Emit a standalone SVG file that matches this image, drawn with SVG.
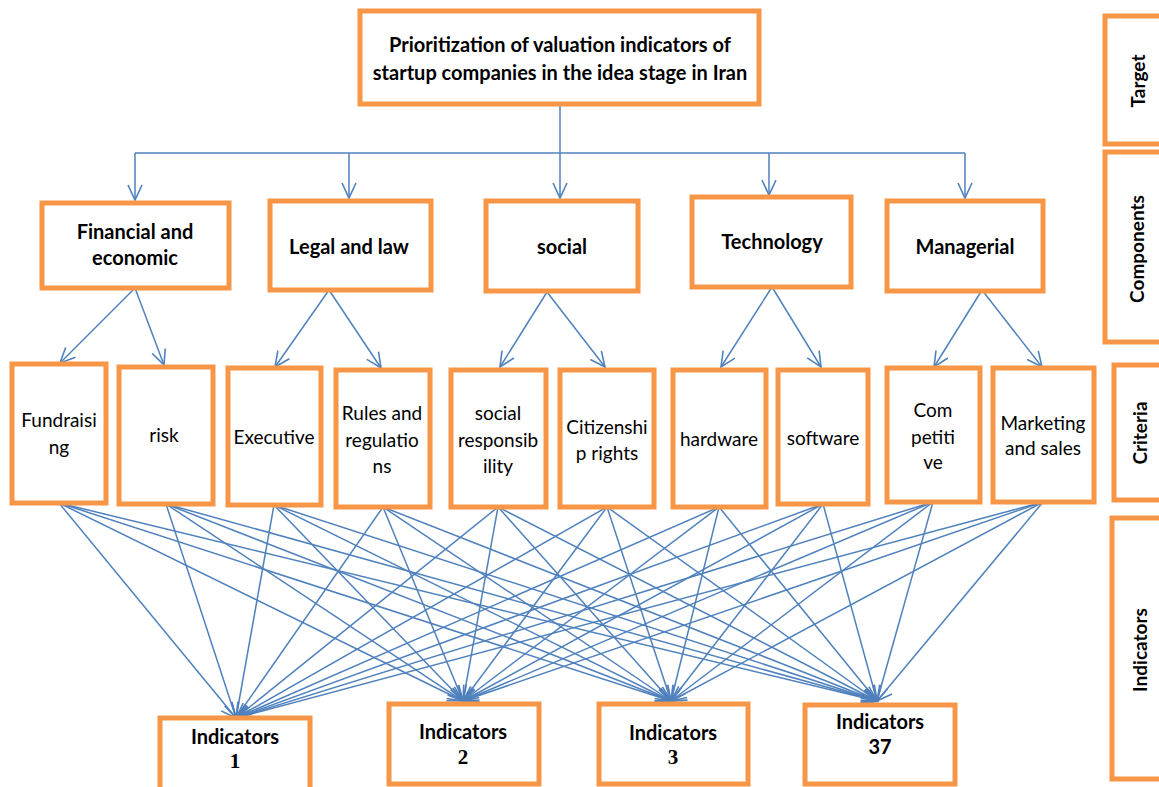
<svg xmlns="http://www.w3.org/2000/svg" width="1159" height="787" viewBox="0 0 1159 787">
<style>
.box{fill:#fff;stroke:#F79646;stroke-width:5}
.ln{fill:none;stroke:#4F81BD;stroke-width:1.5}
.arr{fill:none;stroke:#4F81BD;stroke-width:1.5;marker-end:url(#ah)}
.b{font-family:Lato,"Liberation Sans",sans-serif;font-weight:bold;fill:#000;text-anchor:middle}
.r{font-family:Lato,"Liberation Sans",sans-serif;fill:#000;text-anchor:middle;font-size:19px}
.s{font-family:"Liberation Serif",serif;font-weight:bold;fill:#000;text-anchor:middle;font-size:21px}
</style>
<defs>
<marker id="ah" markerUnits="userSpaceOnUse" markerWidth="18" markerHeight="18" viewBox="0 0 18 18" refX="16" refY="9" orient="auto">
<path d="M1,2 L16,9 L1,16" fill="none" stroke="#4F81BD" stroke-width="1.6"/>
</marker>
</defs>
<rect width="1159" height="787" fill="#fff"/>

<g id="connectors">
<path class="ln" d="M135,153 H965"/>
<path class="arr" d="M560,104 V198"/>
<path class="arr" d="M135,153 V200"/>
<path class="arr" d="M349,153 V198"/>
<path class="arr" d="M769,153 V195"/>
<path class="arr" d="M965,153 V198"/>

<path class="arr" d="M135,288 L60,363"/>
<path class="arr" d="M135,288 L164,365"/>
<path class="arr" d="M329,290 L275,367"/>
<path class="arr" d="M329,290 L381,368"/>
<path class="arr" d="M547,292 L500,367"/>
<path class="arr" d="M547,292 L605,367"/>
<path class="arr" d="M772,287 L721,367"/>
<path class="arr" d="M772,287 L821,367"/>
<path class="arr" d="M982,290 L934,367"/>
<path class="arr" d="M982,290 L1042,367"/>

<path class="arr" d="M59,503 L236,718"/><path class="arr" d="M59,503 L463,701"/><path class="arr" d="M59,503 L671,701"/><path class="arr" d="M59,503 L877,701"/>
<path class="arr" d="M166,504 L236,718"/><path class="arr" d="M166,504 L463,701"/><path class="arr" d="M166,504 L671,701"/><path class="arr" d="M166,504 L877,701"/>
<path class="arr" d="M274,505 L236,718"/><path class="arr" d="M274,505 L463,701"/><path class="arr" d="M274,505 L671,701"/><path class="arr" d="M274,505 L877,701"/>
<path class="arr" d="M383,507 L236,718"/><path class="arr" d="M383,507 L463,701"/><path class="arr" d="M383,507 L671,701"/><path class="arr" d="M383,507 L877,701"/>
<path class="arr" d="M498,507 L236,718"/><path class="arr" d="M498,507 L463,701"/><path class="arr" d="M498,507 L671,701"/><path class="arr" d="M498,507 L877,701"/>
<path class="arr" d="M607,507 L236,718"/><path class="arr" d="M607,507 L463,701"/><path class="arr" d="M607,507 L671,701"/><path class="arr" d="M607,507 L877,701"/>
<path class="arr" d="M719,507 L236,718"/><path class="arr" d="M719,507 L463,701"/><path class="arr" d="M719,507 L671,701"/><path class="arr" d="M719,507 L877,701"/>
<path class="arr" d="M823,504 L236,718"/><path class="arr" d="M823,504 L463,701"/><path class="arr" d="M823,504 L671,701"/><path class="arr" d="M823,504 L877,701"/>
<path class="arr" d="M933,502 L236,718"/><path class="arr" d="M933,502 L463,701"/><path class="arr" d="M933,502 L671,701"/><path class="arr" d="M933,502 L877,701"/>
<path class="arr" d="M1043,502 L236,718"/><path class="arr" d="M1043,502 L463,701"/><path class="arr" d="M1043,502 L671,701"/><path class="arr" d="M1043,502 L877,701"/>
</g>

<g id="target">
<rect class="box" x="360" y="11" width="399" height="93"/>
<text class="b" font-size="20" x="560" y="52">Prioritization of valuation indicators of</text>
<text class="b" font-size="20" x="560" y="80">startup companies in the idea stage in Iran</text>
</g>

<g id="c-financial"><rect class="box" x="42" y="203" width="187" height="85"/>
<text class="b" font-size="20" x="135" y="239">Financial and</text><text class="b" font-size="20" x="135" y="265">economic</text></g>
<g id="c-legal"><rect class="box" x="270" y="201" width="161" height="89"/>
<text class="b" font-size="20" x="349" y="254">Legal and law</text></g>
<g id="c-social"><rect class="box" x="486" y="201" width="152" height="90"/>
<text class="b" font-size="20" x="562" y="254">social</text></g>
<g id="c-technology"><rect class="box" x="692" y="197" width="159" height="90"/>
<text class="b" font-size="20" x="772" y="249">Technology</text></g>
<g id="c-managerial"><rect class="box" x="887" y="201" width="156" height="90"/>
<text class="b" font-size="20" x="965" y="254">Managerial</text></g>

<g id="k-fundraising"><rect class="box" x="12" y="364" width="94" height="139"/>
<text class="r" x="59" y="427">Fundraisi</text><text class="r" x="59" y="454">ng</text></g>
<g id="k-risk"><rect class="box" x="119" y="367" width="94" height="137"/>
<text class="r" x="164" y="442">risk</text></g>
<g id="k-executive"><rect class="box" x="228" y="368" width="93" height="137"/>
<text class="r" x="274" y="444">Executive</text></g>
<g id="k-rules"><rect class="box" x="336" y="370" width="94" height="137"/>
<text class="r" x="382" y="420">Rules and</text><text class="r" x="382" y="447">regulatio</text><text class="r" x="382" y="473">ns</text></g>
<g id="k-socialresp"><rect class="box" x="451" y="370" width="95" height="137"/>
<text class="r" x="498" y="420">social</text><text class="r" x="498" y="447">responsib</text><text class="r" x="498" y="473">ility</text></g>
<g id="k-citizenship"><rect class="box" x="560" y="370" width="94" height="137"/>
<text class="r" x="607" y="434">Citizenshi</text><text class="r" x="607" y="460">p rights</text></g>
<g id="k-hardware"><rect class="box" x="673" y="370" width="93" height="137"/>
<text class="r" x="719" y="446">hardware</text></g>
<g id="k-software"><rect class="box" x="778" y="370" width="90" height="134"/>
<text class="r" x="823" y="445">software</text></g>
<g id="k-competitive"><rect class="box" x="887" y="368" width="93" height="134"/>
<text class="r" x="933" y="417">Com</text><text class="r" x="933" y="444">petiti</text><text class="r" x="933" y="469">ve</text></g>
<g id="k-marketing"><rect class="box" x="993" y="368" width="101" height="134"/>
<text class="r" x="1043" y="430">Marketing</text><text class="r" x="1043" y="455">and sales</text></g>

<g id="i-1"><rect class="box" x="160" y="718" width="150" height="80"/>
<text class="b" font-size="20" x="235" y="744">Indicators</text><text class="s" x="235" y="768">1</text></g>
<g id="i-2"><rect class="box" x="389" y="704" width="150" height="80"/>
<text class="b" font-size="20" x="463" y="739">Indicators</text><text class="s" x="463" y="764">2</text></g>
<g id="i-3"><rect class="box" x="599" y="704" width="149" height="80"/>
<text class="b" font-size="20" x="673" y="740">Indicators</text><text class="s" x="673" y="764">3</text></g>
<g id="i-37"><rect class="box" x="805" y="705" width="150" height="79"/>
<text class="b" font-size="20" x="880" y="729">Indicators</text><text class="b" font-size="20" x="880" y="754">37</text></g>

<g id="l-target"><rect class="box" x="1105" y="16" width="70" height="128"/>
<text class="b" font-size="19" transform="translate(1145,81) rotate(-90)">Target</text></g>
<g id="l-components"><rect class="box" x="1105" y="152" width="70" height="190"/>
<text class="b" font-size="19" transform="translate(1144,249) rotate(-90)">Components</text></g>
<g id="l-criteria"><rect class="box" x="1114" y="365" width="70" height="135"/>
<text class="b" font-size="19" transform="translate(1147,433) rotate(-90)">Criteria</text></g>
<g id="l-indicators"><rect class="box" x="1112" y="518" width="70" height="261"/>
<text class="b" font-size="19" transform="translate(1147,650) rotate(-90)">Indicators</text></g>
</svg>
